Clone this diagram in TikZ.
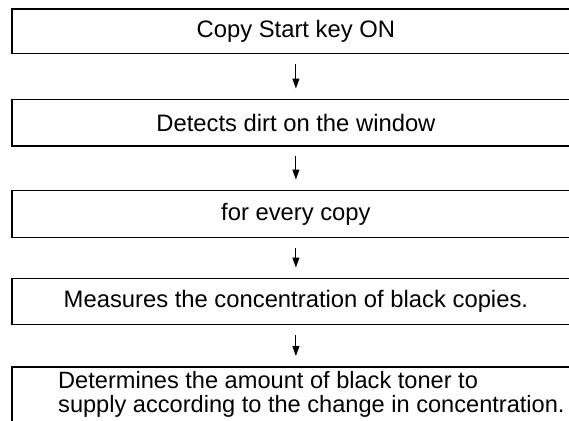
\documentclass[tikz,border=0pt]{standalone}
\usepackage{fontspec}
\setmainfont{Liberation Sans}
\usetikzlibrary{arrows.meta}
\begin{document}
\begin{tikzpicture}[x=1pt,y=-1pt,
  stepbox/.style={draw=black, line width=1.8pt, minimum width=568pt, inner sep=0pt,
    font=\fontsize{23.8}{25}\selectfont, anchor=north west},
  boxtext/.style={inner sep=0pt, font=\fontsize{23.6}{24}\selectfont, align=left, anchor=west},
  flow/.style={line width=1pt, -{Triangle[width=7pt,length=10pt]}, shorten <=9.5pt, shorten >=10pt}]
\useasboundingbox (0,0) rectangle (569,420);
\begin{scope}
\clip (0,0) rectangle (569,420);
\node[stepbox, minimum height=44.5pt] (b1) at (11,8) {Copy Start key ON};
\node[stepbox, minimum height=46.5pt] (b2) at (11,98.5) {Detects dirt on the window};
\node[stepbox, minimum height=47pt] (b3) at (11,189.5) {for every copy};
\node[stepbox, minimum height=46pt] (b4) at (11,277.5) {Measures the concentration of black copies.};
\node[stepbox, minimum height=70pt] (b5) at (11,366) {};
\node[boxtext] (t5) at (58,394) {Determines the amount of black toner to\\supply according to the change in concentration.};
\draw[flow] (b1.south) -- (b2.north);
\draw[flow] (b2.south) -- (b3.north);
\draw[flow] (b3.south) -- (b4.north);
\draw[flow] (b4.south) -- (b5.north);
\end{scope}
\end{tikzpicture}
\end{document}
